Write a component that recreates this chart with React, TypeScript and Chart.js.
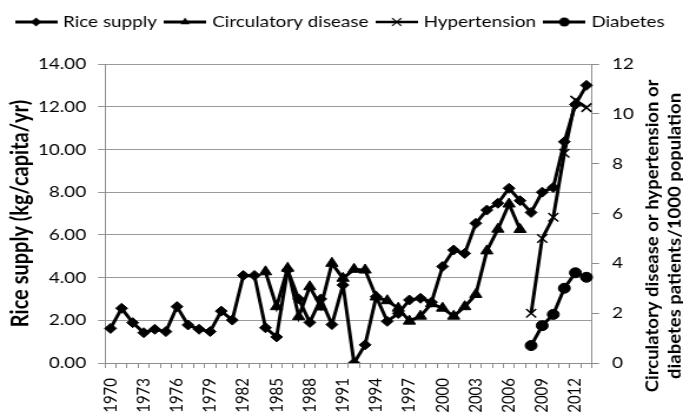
import React, { useEffect, useRef } from "react";
import { Chart, registerables } from "chart.js";

Chart.register(...registerables);

const years = [
  1970, 1971, 1972, 1973, 1974, 1975, 1976, 1977, 1978, 1979,
  1980, 1981, 1982, 1983, 1984, 1985, 1986, 1987, 1988, 1989,
  1990, 1991, 1992, 1993, 1994, 1995, 1996, 1997, 1998, 1999,
  2000, 2001, 2002, 2003, 2004, 2005, 2006, 2007, 2008, 2009,
  2010, 2011, 2012, 2013,
];

const labeledYears = [1970, 1973, 1976, 1979, 1982, 1985, 1988, 1991, 1994, 1997, 2000, 2003, 2006, 2009, 2012];

const riceSupply = [
  1.62, 2.56, 1.89, 1.42, 1.58, 1.47, 2.64, 1.78, 1.58, 1.47,
  2.43, 2.01, 4.1, 4.1, 1.65, 1.22, 4.35, 3.0, 1.9, 3.0,
  1.8, 3.65, 0.0, 0.85, 3.1, 1.95, 2.32, 2.95, 3.03, 2.85,
  4.52, 5.29, 5.13, 6.54, 7.16, 7.48, 8.18, 7.6, 7.05, 8.0,
  8.22, 10.36, 12.1, 13.0,
];

const circulatoryDisease = [
  null, null, null, null, null, null, null, null, null, null,
  null, null, null, null, 3.66, 2.26, 3.8, 1.86, 3.06, 2.25,
  4.0, 3.4, 3.76, 3.73, 2.65, 2.5, 2.2, 1.68, 1.88, 2.38,
  2.2, 1.88, 2.26, 2.75, 4.5, 5.37, 6.38, 5.36, null, null,
  null, null, null, null,
];

const hypertension = [
  null, null, null, null, null, null, null, null, null, null,
  null, null, null, null, null, null, null, null, null, null,
  null, null, null, null, null, null, null, null, null, null,
  null, null, null, null, null, null, null, null, 2.0, 5.0,
  5.85, 8.42, 10.55, 10.25,
];

const diabetes = [
  null, null, null, null, null, null, null, null, null, null,
  null, null, null, null, null, null, null, null, null, null,
  null, null, null, null, null, null, null, null, null, null,
  null, null, null, null, null, null, null, null, 0.7, 1.5,
  1.95, 3.0, 3.62, 3.44,
];

const leftTicks = [0, 2, 4, 6, 8, 10, 12, 14];
const rightTicks = [0, 2, 4, 6, 8, 10, 12];

const FINAL_W = 683;
const CANVAS_W = 580;
const H = 420;
const K = CANVAS_W / FINAL_W;
const FONT = "Lato, 'Open Sans', sans-serif";

type Kind = "diamond" | "triangle" | "cross" | "circle";

function drawMarker(ctx: CanvasRenderingContext2D, kind: Kind, x: number, y: number, r: number) {
  ctx.beginPath();
  if (kind === "diamond") {
    ctx.moveTo(x, y - r);
    ctx.lineTo(x + r, y);
    ctx.lineTo(x, y + r);
    ctx.lineTo(x - r, y);
    ctx.closePath();
    ctx.fill();
  } else if (kind === "triangle") {
    for (let i = 0; i < 3; i++) {
      const a = (i * 2 * Math.PI) / 3;
      const px = x + Math.sin(a) * r;
      const py = y - Math.cos(a) * r;
      if (i === 0) ctx.moveTo(px, py);
      else ctx.lineTo(px, py);
    }
    ctx.closePath();
    ctx.fill();
  } else if (kind === "cross") {
    const d = r * Math.SQRT1_2;
    ctx.lineWidth = 1.3;
    ctx.moveTo(x - d, y - d);
    ctx.lineTo(x + d, y + d);
    ctx.moveTo(x + d, y - d);
    ctx.lineTo(x - d, y + d);
    ctx.stroke();
  } else {
    ctx.arc(x, y, r, 0, Math.PI * 2);
    ctx.fill();
  }
}

function makeIcon(kind: Kind, thinLine: boolean): HTMLCanvasElement {
  const c = document.createElement("canvas");
  c.width = 36;
  c.height = 14;
  const ctx = c.getContext("2d")!;
  ctx.strokeStyle = "#000";
  ctx.fillStyle = "#000";
  ctx.lineWidth = thinLine ? 2.5 : 3;
  ctx.beginPath();
  ctx.moveTo(0, 7);
  ctx.lineTo(36, 7);
  ctx.stroke();
  drawMarker(ctx, kind, 18, 7, kind === "cross" ? 5.5 : 4.5);
  return c;
}

const rightTitlePlugin = {
  id: "rightTitle",
  afterDraw(chart: any) {
    const ctx = chart.ctx as CanvasRenderingContext2D;
    const area = chart.chartArea;
    const cy = area.top + (area.bottom - area.top) * 0.575;
    ctx.save();
    ctx.fillStyle = "#000";
    ctx.font = `bold 18.5px ${FONT}`;
    ctx.textAlign = "center";
    ctx.textBaseline = "middle";
    const lines = ["Circulatory disease or hypertension or", "diabetes patients/1000 population"];
    const xs = [chart.width - 26, chart.width - 7.5];
    lines.forEach((t, i) => {
      ctx.save();
      ctx.translate(xs[i], cy);
      ctx.rotate(-Math.PI / 2);
      ctx.scale(1, 0.84);
      ctx.fillText(t, 0, 0);
      ctx.restore();
    });
    ctx.restore();
  },
};

export default function App() {
  const ref = useRef<HTMLCanvasElement | null>(null);

  useEffect(() => {
    document.body.style.margin = "0";
    const canvas = ref.current;
    if (!canvas) return;
    const icons = [
      makeIcon("diamond", false),
      makeIcon("triangle", false),
      makeIcon("cross", true),
      makeIcon("circle", false),
    ];
    const common = {
      borderColor: "#000",
      backgroundColor: "#000",
      pointBorderColor: "#000",
      pointBackgroundColor: "#000",
      borderWidth: 3,
      tension: 0,
      pointBorderWidth: 1,
    };
    const chart = new Chart(canvas, {
      type: "line",
      data: {
        labels: years.map(String),
        datasets: [
          { ...common, label: "Rice supply", data: riceSupply, yAxisID: "y", pointStyle: "rectRot", pointRadius: 5 },
          { ...common, label: "Circulatory disease", data: circulatoryDisease, yAxisID: "y1", pointStyle: "triangle", pointRadius: 6 },
          { ...common, label: "Hypertension", data: hypertension, yAxisID: "y1", pointStyle: "crossRot", pointRadius: 6, pointBorderWidth: 1.5 },
          { ...common, label: "Diabetes", data: diabetes, yAxisID: "y1", pointStyle: "circle", pointRadius: 5 },
        ],
      },
      options: {
        responsive: false,
        animation: false,
        devicePixelRatio: 1,
        layout: { padding: { top: 5, left: 0, right: 0, bottom: 0 } },
        plugins: {
          tooltip: { enabled: false },
          title: {
            display: true,
            text: "",
            weight: 500,
            font: { size: 10 },
            padding: { top: 0, bottom: 12 },
          },
          legend: {
            display: true,
            position: "top",
            labels: {
              usePointStyle: true,
              pointStyleWidth: 30,
              padding: 9,
              color: "#000",
              font: { family: FONT, size: 16 },
              generateLabels: (ch: any) => {
                const items = (Chart.defaults.plugins.legend.labels as any).generateLabels(ch);
                return items.map((it: any, i: number) => ({ ...it, pointStyle: icons[i], lineWidth: 0 }));
              },
            },
          },
        },
        scales: {
          x: {
            type: "category",
            offset: true,
            grid: { display: true, drawOnChartArea: false, drawTicks: true, tickLength: 5, color: "#8c8c8c", offset: true },
            border: { display: true, color: "#8c8c8c", width: 1 },
            ticks: {
              autoSkip: false,
              maxRotation: 90,
              minRotation: 90,
              padding: 10,
              color: "#000",
              font: { family: FONT, size: 15 },
              callback: (_v: any, i: number) => (labeledYears.includes(years[i]) ? String(years[i]) : ""),
            },
            afterFit: (s: any) => {
              s.height = 57;
            },
          },
          y: {
            position: "left",
            min: 0,
            max: 14,
            afterBuildTicks: (s: any) => {
              s.ticks = leftTicks.map((v) => ({ value: v }));
            },
            grid: { color: "#9a9a9a", tickLength: 6, lineWidth: 1 },
            border: { color: "#8c8c8c", width: 1 },
            ticks: {
              padding: 10,
              color: "#000",
              font: { family: FONT, size: 16 },
              callback: (v: any) => Number(v).toFixed(2),
            },
            title: {
              display: true,
              text: "Rice supply (kg/capita/yr)",
              color: "#000",
              font: { family: FONT, size: 20, weight: "bold" },
              padding: { top: 6, bottom: 0 },
            },
            afterFit: (s: any) => {
              s.width = 105 * K;
            },
          },
          y1: {
            position: "right",
            min: 0,
            max: 12,
            afterBuildTicks: (s: any) => {
              s.ticks = rightTicks.map((v) => ({ value: v }));
            },
            grid: { drawOnChartArea: false, color: "#8c8c8c", tickLength: 6 },
            border: { color: "#8c8c8c", width: 1 },
            ticks: {
              padding: 11,
              color: "#000",
              font: { family: FONT, size: 16 },
            },
            afterFit: (s: any) => {
              s.width = (FINAL_W - 592) * K;
            },
          },
        },
      } as any,
      plugins: [rightTitlePlugin],
    });
    return () => chart.destroy();
  }, []);

  return (
    <div style={{ width: FINAL_W, height: H }}>
      <canvas
        ref={ref}
        width={CANVAS_W}
        height={H}
        style={{ width: `${FINAL_W}px`, height: `${H}px`, display: "block" }}
      />
    </div>
  );
}
